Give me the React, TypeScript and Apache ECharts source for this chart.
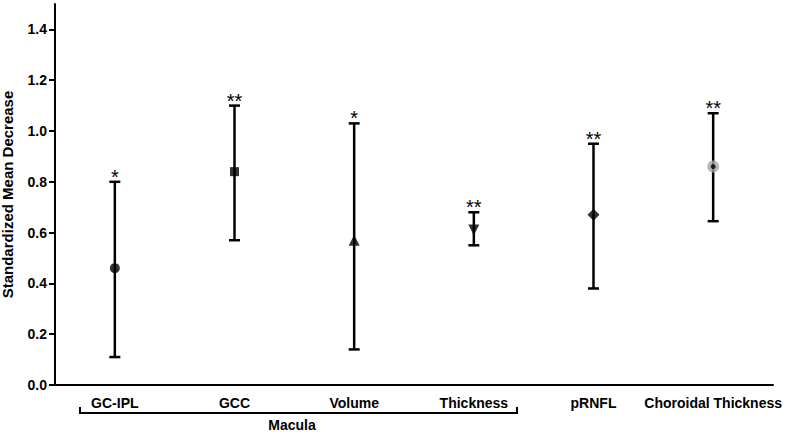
import React, { useEffect, useRef } from "react";
import * as echarts from "echarts";

const categories = ["GC-IPL", "GCC", "Volume", "Thickness", "pRNFL", "Choroidal Thickness"];
const means = [0.46, 0.84, 0.57, 0.61, 0.67, 0.86];
const lowers = [0.11, 0.57, 0.14, 0.55, 0.38, 0.645];
const uppers = [0.8, 1.1, 1.03, 0.68, 0.95, 1.07];
const significance = ["*", "**", "*", "**", "**", "**"];
const yTicks = [0, 0.2, 0.4, 0.6, 0.8, 1.0, 1.2, 1.4];
const groupLabel = "Macula";
const yTitle = "Standardized Mean Decrease";

const FONT = "'Liberation Sans', Arial, sans-serif";

const markerSymbols = ["circle", "rect", "triangle", "triangle", "diamond", "circle"];
const markerSizes = [10, 9, 11, 11, 12, 12];
const markerRotations = [0, 0, 0, 180, 0, 0];
const markerColors = ["#000", "#000", "#000", "#000", "#000", "#a6a6a6"];

export default function App() {
  const ref = useRef<HTMLDivElement>(null);
  useEffect(() => {
    if (!ref.current) return;
    const chart = echarts.init(ref.current, undefined, { renderer: "svg" });
    const option: any = {
      animation: false,
      backgroundColor: "#fff",
      grid: { left: 55, right: 27, top: 4, bottom: 47, containLabel: false, outerBoundsMode: "none" },
      xAxis: {
        type: "category",
        data: categories,
        boundaryGap: true,
        axisLine: { lineStyle: { color: "#000", width: 2 } },
        axisTick: { alignWithLabel: true, length: 6, lineStyle: { color: "#000", width: 2 } },
        axisLabel: { color: "#000", fontFamily: FONT, fontWeight: "bold", fontSize: 14, margin: 11, interval: 0 },
      },
      yAxis: {
        type: "value",
        min: 0,
        max: 1.5,
        interval: 0.2,
        name: yTitle,
        nameLocation: "middle",
        nameGap: 40,
        nameTextStyle: { color: "#000", fontFamily: FONT, fontWeight: "bold", fontSize: 15 },
        splitLine: { show: false },
        axisLine: { show: true, lineStyle: { color: "#000", width: 2 } },
        axisTick: { show: true, length: 6, lineStyle: { color: "#000", width: 2 }, customValues: yTicks },
        axisLabel: {
          color: "#000",
          fontFamily: FONT,
          fontWeight: "bold",
          fontSize: 14,
          margin: 8,
          customValues: yTicks,
          formatter: (v: number) => (v > 1.45 ? "" : v.toFixed(1)),
        },
      },
      series: [
        {
          type: "custom",
          data: categories.map((_, i) => [i, lowers[i], uppers[i]]),
          encode: { x: 0, y: [1, 2] },
          z: 2,
          renderItem: (params: any, api: any) => {
            const idx = params.dataIndex;
            const lo = api.coord([api.value(0), api.value(1)]);
            const hi = api.coord([api.value(0), api.value(2)]);
            const hw = 5.5;
            const st = { stroke: "#000", lineWidth: 2.5, fill: "none" };
            return {
              type: "group",
              children: [
                { type: "line", shape: { x1: lo[0], y1: lo[1], x2: hi[0], y2: hi[1] }, style: st },
                { type: "line", shape: { x1: lo[0] - hw, y1: lo[1], x2: lo[0] + hw, y2: lo[1] }, style: st },
                { type: "line", shape: { x1: hi[0] - hw, y1: hi[1], x2: hi[0] + hw, y2: hi[1] }, style: st },
                {
                  type: "text",
                  x: hi[0],
                  y: hi[1] + 5,
                  style: {
                    text: significance[idx],
                    fill: "#000",
                    font: `20px ${FONT}`,
                    align: "center",
                    verticalAlign: "bottom",
                  },
                },
              ],
            };
          },
        },
        {
          type: "scatter",
          z: 3,
          data: means.map((m, i) => ({
            value: [i, m],
            symbol: markerSymbols[i],
            symbolSize: markerSizes[i],
            symbolRotate: markerRotations[i],
            itemStyle: { color: markerColors[i] },
          })),
        },
        {
          type: "scatter",
          z: 4,
          symbol: "circle",
          symbolSize: 5,
          itemStyle: { color: "#000" },
          data: [[5, means[5]]],
        },
      ],
      graphic: [
        {
          type: "polyline",
          shape: { points: [[80, 407], [80, 413], [517, 413], [517, 407]] },
          style: { stroke: "#000", lineWidth: 2, fill: "none" },
        },
        {
          type: "text",
          x: 292,
          y: 432,
          style: {
            text: groupLabel,
            fill: "#000",
            font: `bold 14px ${FONT}`,
            align: "center",
            verticalAlign: "bottom",
          },
        },
      ],
    };
    chart.setOption(option);
    return () => chart.dispose();
  }, []);
  return (
    <div
      ref={ref}
      style={{ position: "fixed", left: 0, top: 0, width: 800, height: 432 }}
    />
  );
}
